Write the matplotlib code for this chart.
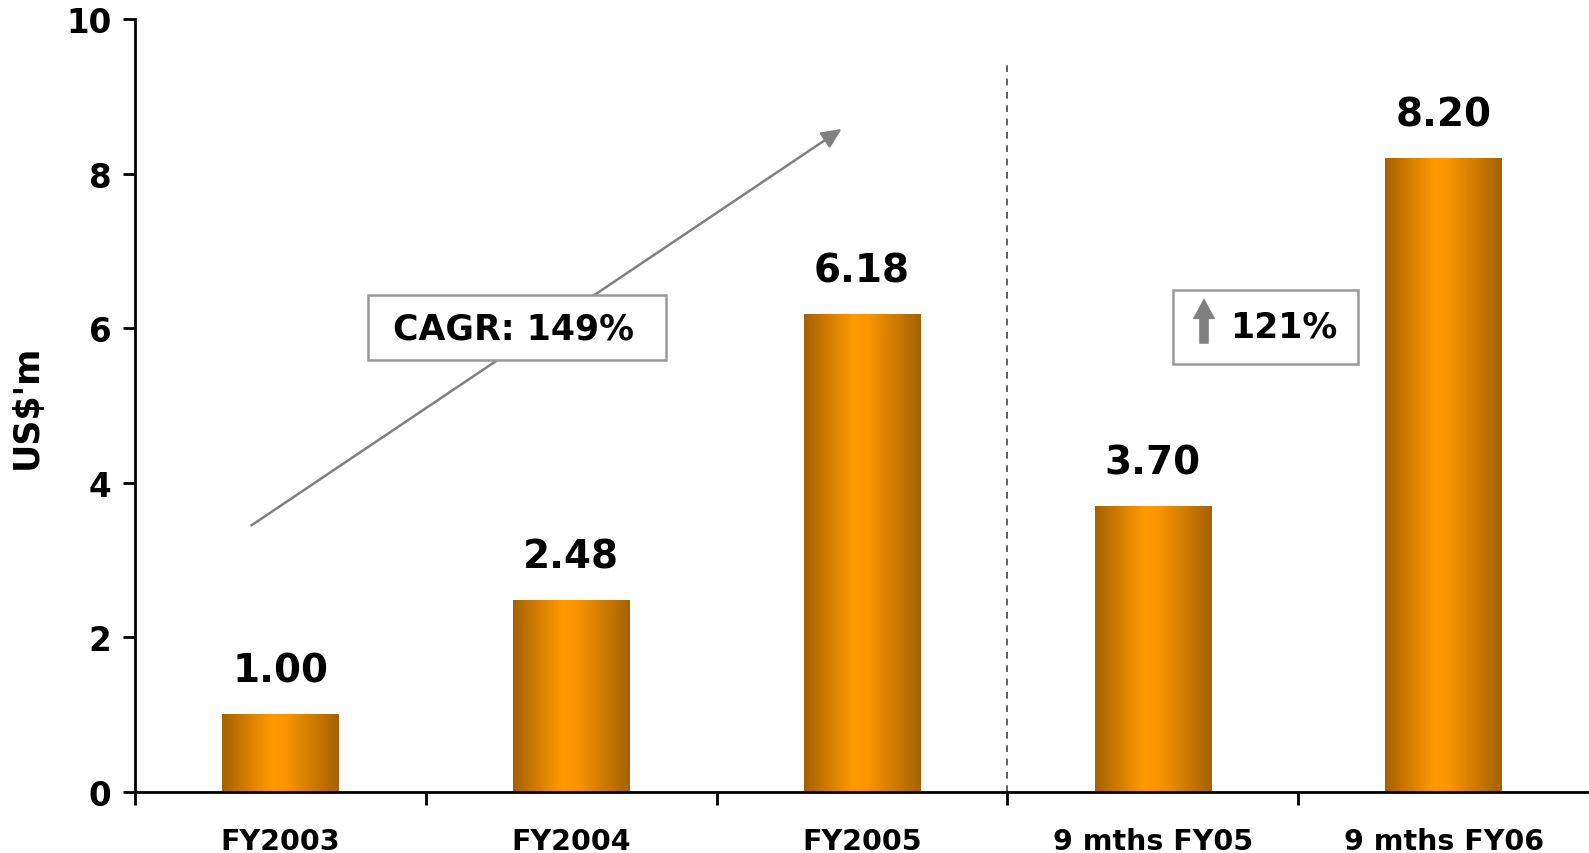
import numpy as np
import matplotlib.pyplot as plt
from matplotlib.colors import LinearSegmentedColormap
from matplotlib.patches import Rectangle, FancyArrow

# revenue by period, US$ millions
periods = ['FY2003', 'FY2004', 'FY2005', '9 mths FY05', '9 mths FY06']
revenue = [1.00, 2.48, 6.18, 3.70, 8.20]
value_labels = ['1.00', '2.48', '6.18', '3.70', '8.20']
cagr_text = 'CAGR: 149%'
growth_text = '121%'

plt.rcParams['font.family'] = ['DejaVu Sans']
plt.rcParams['font.weight'] = 'bold'

fig = plt.figure(figsize=(15.89, 8.54), dpi=100)
ax = fig.add_axes([0.085, 0.0714, 0.915, 0.905])

# horizontal shading used for each bar
shade = LinearSegmentedColormap.from_list(
    'bar_shade', [(0.0, '#a66100'), (0.42, '#ff9a00'), (0.55, '#f99500'), (1.0, '#a66100')])
grad = np.linspace(0, 1, 256).reshape(1, -1)

width = 0.4
x = np.arange(len(periods))
for xi, val, lab in zip(x, revenue, value_labels):
    ax.imshow(grad, cmap=shade, aspect='auto', interpolation='bicubic',
              extent=(xi - width / 2, xi + width / 2, 0, val), zorder=2)
    ax.annotate(lab, (xi, val), xytext=(0, 18), textcoords='offset points',
                ha='center', va='bottom', fontsize=28, fontweight='bold')

ax.set_xlim(-0.5, 4.5)
ax.set_ylim(0, 10)
ax.set_yticks([0, 2, 4, 6, 8, 10])
ax.tick_params(axis='y', labelsize=23.5, length=9, width=2, direction='out', pad=8)
ax.set_xticks(x)
ax.set_xticklabels(periods, fontsize=20.5, fontweight='bold')
ax.set_xticks([-0.5, 0.5, 1.5, 2.5, 3.5], minor=True)
ax.tick_params(axis='x', which='major', length=0, pad=25)
ax.tick_params(axis='x', which='minor', length=9, width=2, direction='out')
for t in ax.get_yticklabels():
    t.set_fontweight('bold')
ax.set_ylabel("US$'m", fontsize=25, fontweight='bold', labelpad=16)

for side in ['top', 'right']:
    ax.spines[side].set_visible(False)
for side in ['left', 'bottom']:
    ax.spines[side].set_linewidth(2)

# divider between full-year and nine-month figures
ax.plot([2.5, 2.5], [0, 9.41], ls=(0, (4, 4)), color='#444444', lw=1.2, zorder=1)

# growth trend arrow
ax.annotate('', xy=(1.93, 8.58), xytext=(-0.1, 3.45),
            arrowprops=dict(arrowstyle='-|>,head_length=1.2,head_width=0.55',
                            color='#808080', lw=1.8, shrinkA=0, shrinkB=0), zorder=3)

# CAGR callout
ax.add_patch(Rectangle((0.30, 5.59), 1.026, 0.84, fc='white', ec='#999999', lw=1.8, zorder=4))
ax.text(0.80, 6.0, cagr_text, ha='center', va='center', fontsize=25,
        fontweight='bold', zorder=5)

# nine-month growth callout
ax.add_patch(Rectangle((3.07, 5.54), 0.635, 0.96, fc='white', ec='#999999', lw=1.8, zorder=4))
ax.text(3.45, 6.02, growth_text, ha='center', va='center', fontsize=25,
        fontweight='bold', zorder=5)
ax.add_patch(FancyArrow(3.176, 5.8, 0, 0.59, width=0.033, head_width=0.078,
                        head_length=0.27, length_includes_head=True,
                        fc='#808080', ec='none', zorder=5))

fig.savefig('out.png', dpi=100)
